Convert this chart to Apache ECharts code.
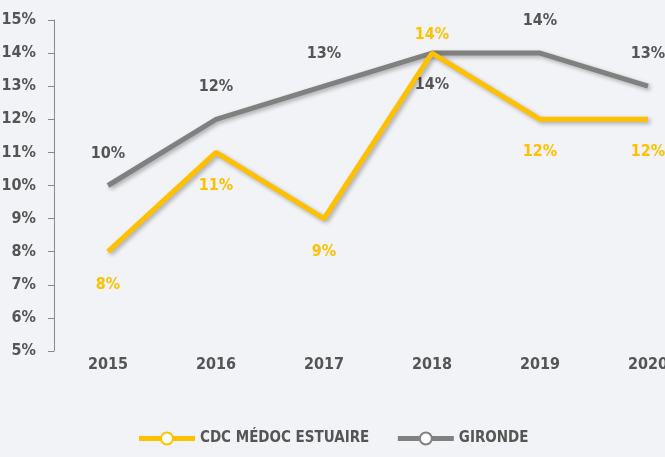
<!DOCTYPE html>
<html>
<head>
<meta charset="utf-8">
<script src="https://cdn.jsdelivr.net/npm/echarts@6/dist/echarts.min.js"></script>
<style>
html,body{margin:0;padding:0;background:#f2f3f7;}
#chart{width:665px;height:457px;}
</style>
</head>
<body>
<div id="chart"></div>
<script>
// données
var annees = ['2015', '2016', '2017', '2018', '2019', '2020'];
var cdcMedoc = [8, 11, 9, 14, 12, 12];
var gironde = [10, 12, 13, 14, 14, 13];
// position des étiquettes jaunes (2018 au-dessus)
var cdcLabelPos = ['bottom', 'bottom', 'bottom', 'top', 'bottom', 'bottom'];

var police = '"DejaVu Sans Condensed", sans-serif';
var jaune = '#ffc000';
var gris = '#808080';

var myChart = echarts.init(document.getElementById('chart'));

var cdcData = [];
for (var i = 0; i < cdcMedoc.length; i++) {
    cdcData.push({
        value: cdcMedoc[i],
        label: {position: cdcLabelPos[i], distance: cdcLabelPos[i] == 'top' ? 10 : 25}
    });
}
var girData = [];
for (var j = 0; j < gironde.length; j++) {
    girData.push({
        value: gironde[j],
        label: {position: annees[j] == '2018' ? 'bottom' : 'top'}
    });
}

var option = {
    backgroundColor: '#f2f3f7',
    animation: false,
    grid: {left: 54, top: 20, width: 648, height: 331, containLabel: false, outerBoundsMode: 'none'},
    legend: {
        bottom: 6,
        left: 'center',
        itemWidth: 56,
        itemHeight: 15,
        itemGap: 26,
        lineStyle: {width: 5},
        itemStyle: {borderWidth: 3},
        textStyle: {fontFamily: police, fontWeight: 'bold', fontSize: 15, color: '#555'},
        data: ['CDC MÉDOC ESTUAIRE', 'GIRONDE']
    },
    xAxis: {
        type: 'category',
        data: annees,
        boundaryGap: true,
        axisLine: {show: false},
        axisTick: {show: false},
        axisLabel: {fontFamily: police, fontWeight: 'bold', fontSize: 16, color: '#555', margin: 6}
    },
    yAxis: {
        type: 'value',
        min: 5,
        max: 15,
        interval: 1,
        splitLine: {show: false},
        axisLine: {show: true, lineStyle: {color: '#888', width: 1}},
        axisTick: {show: true, length: 6, lineStyle: {color: '#888'}},
        axisLabel: {fontFamily: police, fontWeight: 'bold', fontSize: 16, color: '#555', margin: 18, formatter: '{value}%'}
    },
    series: [
        {
            name: 'CDC MÉDOC ESTUAIRE',
            type: 'line',
            data: cdcData,
            symbol: 'emptyCircle',
            symbolSize: 0,
            z: 3,
            itemStyle: {color: jaune, borderWidth: 3},
            lineStyle: {color: jaune, width: 5, shadowColor: 'rgba(0,0,0,0.3)', shadowBlur: 4, shadowOffsetX: 2, shadowOffsetY: 2},
            label: {show: true, formatter: '{c}%', color: jaune, fontFamily: police, fontWeight: 'bold', fontSize: 16}
        },
        {
            name: 'GIRONDE',
            type: 'line',
            data: girData,
            symbol: 'emptyCircle',
            symbolSize: 0,
            z: 2,
            itemStyle: {color: gris, borderWidth: 3},
            lineStyle: {color: gris, width: 5, shadowColor: 'rgba(0,0,0,0.3)', shadowBlur: 4, shadowOffsetX: 2, shadowOffsetY: 2},
            label: {show: true, formatter: '{c}%', color: '#555', fontFamily: police, fontWeight: 'bold', fontSize: 16, distance: 24}
        }
    ]
};

myChart.setOption(option);
</script>
</body>
</html>
